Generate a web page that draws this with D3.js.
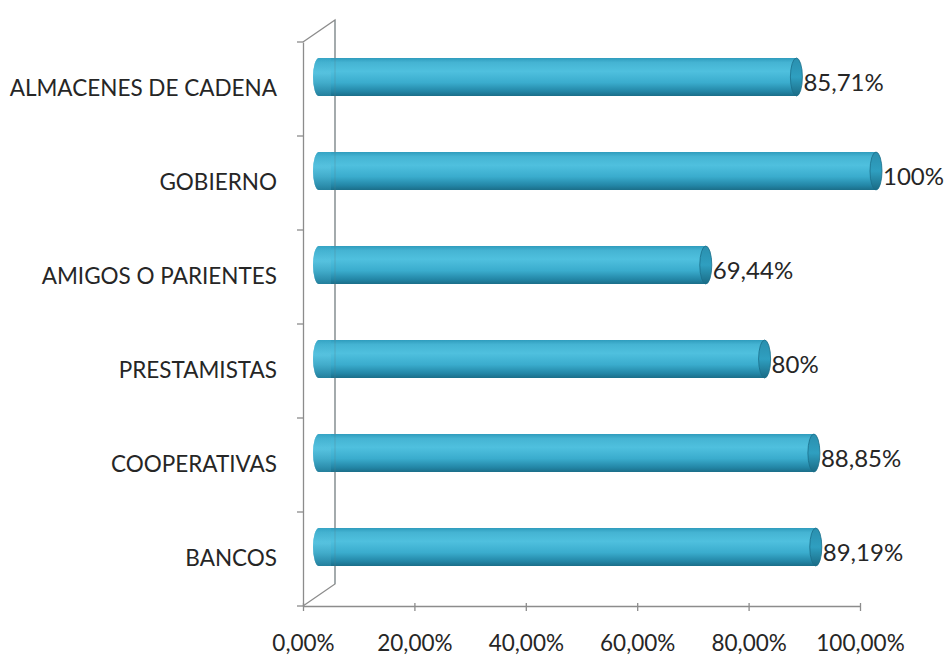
<!DOCTYPE html>
<html><head><meta charset="utf-8">
<script src="https://cdn.jsdelivr.net/npm/d3@7"></script>
<style>body{margin:0;background:#fff}svg{display:block}</style>
</head><body>
<svg id="c" width="951" height="660"></svg>
<script>
const categories = ["ALMACENES DE CADENA","GOBIERNO","AMIGOS O PARIENTES","PRESTAMISTAS","COOPERATIVAS","BANCOS"];
const values = [85.71, 100, 69.44, 80, 88.85, 89.19];
const valueLabels = ["85,71%","100%","69,44%","80%","88,85%","89,19%"];
const tickValues = [0, 20, 40, 60, 80, 100];
const tickLabels = ["0,00%","20,00%","40,00%","60,00%","80,00%","100,00%"];

const svg = d3.select("#c");
const font = "Lato, 'Open Sans', sans-serif";
const x = d3.scaleLinear().domain([0,100]).range([303,860]);
const y = d3.scaleBand().domain(categories).range([42,606]);
const depth = {dx:32, dy:-22};
const off = {dx:16, dy:-12};
const axisColor = "#8c8c8c";

const defs = svg.append("defs");
const g1 = defs.append("linearGradient").attr("id","body").attr("x1",0).attr("y1",0).attr("x2",0).attr("y2",1);
[[0,"#2f9cbd"],[0.12,"#45b4d3"],[0.35,"#4fc0de"],[0.65,"#3aaccd"],[0.88,"#2386a6"],[1,"#1b6e89"]].forEach(d=>g1.append("stop").attr("offset",d[0]).attr("stop-color",d[1]));
const g2 = defs.append("linearGradient").attr("id","cap").attr("x1",0).attr("y1",0).attr("x2",0).attr("y2",1);
[[0,"#2a8fae"],[0.5,"#2f9fc0"],[1,"#1a6b85"]].forEach(d=>g2.append("stop").attr("offset",d[0]).attr("stop-color",d[1]));
const g3 = defs.append("linearGradient").attr("id","lcap").attr("x1",0).attr("y1",0).attr("x2",0).attr("y2",1);
[[0,"#3aa9c9"],[0.4,"#5cc4e0"],[1,"#2a8aa8"]].forEach(d=>g3.append("stop").attr("offset",d[0]).attr("stop-color",d[1]));

const y0 = y.range()[0], y1 = y.range()[1], xa = x(0);
svg.append("path")
  .attr("d", `M${xa},${y0}L${xa+depth.dx},${y0+depth.dy}L${xa+depth.dx},${y1+depth.dy}L${xa},${y1}`)
  .attr("fill","none").attr("stroke",axisColor).attr("stroke-width",1.3);

const yAxis = d3.axisLeft(y).tickSize(0).tickPadding(26).tickFormat(d=>d);
const gy = svg.append("g").attr("transform",`translate(${xa},0)`).call(yAxis);
gy.select(".domain").attr("stroke",axisColor).attr("stroke-width",1.3);
gy.selectAll("text").attr("font-family",font).attr("font-size",22.5).attr("fill","#262626");
const bounds = categories.map(c=>y(c)).concat([y1]);
svg.selectAll("line.yt").data(bounds).enter().append("line")
  .attr("x1",xa-6).attr("x2",xa).attr("y1",d=>d).attr("y2",d=>d)
  .attr("stroke",axisColor).attr("stroke-width",1.3);

const xAxis = d3.axisBottom(x).tickValues(tickValues).tickSize(5).tickPadding(24)
  .tickFormat((d,i)=>tickLabels[i]);
const gx = svg.append("g").attr("transform",`translate(0,${y1})`).call(xAxis);
gx.select(".domain").attr("stroke",axisColor).attr("stroke-width",1.3).attr("d",`M${xa},0.5H${x(100)}`);
gx.selectAll(".tick line").attr("stroke",axisColor).attr("stroke-width",1.3).attr("y1",-3);
gx.selectAll("text").attr("font-family",font).attr("font-size",22.5).attr("fill","#262626");

const r = 19, rx = 6;
const bars = svg.selectAll("g.bar").data(categories).enter().append("g").attr("class","bar");
bars.each(function(c,i){
  const g = d3.select(this);
  const yc = y(c) + y.bandwidth()/2 + off.dy;
  const bx0 = x(0) + off.dx, bx1 = x(values[i]) + off.dx;
  g.append("path")
    .attr("d", `M${bx1},${yc-r}L${bx0},${yc-r}A${rx},${r} 0 0 0 ${bx0},${yc+r}L${bx1},${yc+r}Z`)
    .attr("fill","url(#body)");
  g.append("path")
    .attr("d", `M${bx0+rx*2},${yc-r}L${bx0},${yc-r}A${rx},${r} 0 0 0 ${bx0},${yc+r}L${bx0+rx*2},${yc+r}Z`)
    .attr("fill","url(#lcap)").attr("opacity",0.6);
  g.append("ellipse").attr("cx",bx1).attr("cy",yc).attr("rx",rx).attr("ry",r)
    .attr("fill","url(#cap)").attr("stroke","#1b6f8a").attr("stroke-width",0.8);
  g.append("text").attr("x",bx1+rx+1).attr("y",yc+6).attr("dy","0.35em")
    .attr("font-family",font).attr("font-size",24).attr("fill","#262626").text(valueLabels[i]);
});

svg.append("line").attr("x1",xa+depth.dx).attr("x2",xa+depth.dx)
  .attr("y1",y0+depth.dy).attr("y2",y1+depth.dy)
  .attr("stroke","#5a7f8a").attr("stroke-opacity",0.35).attr("stroke-width",1);
</script>
</body></html>
